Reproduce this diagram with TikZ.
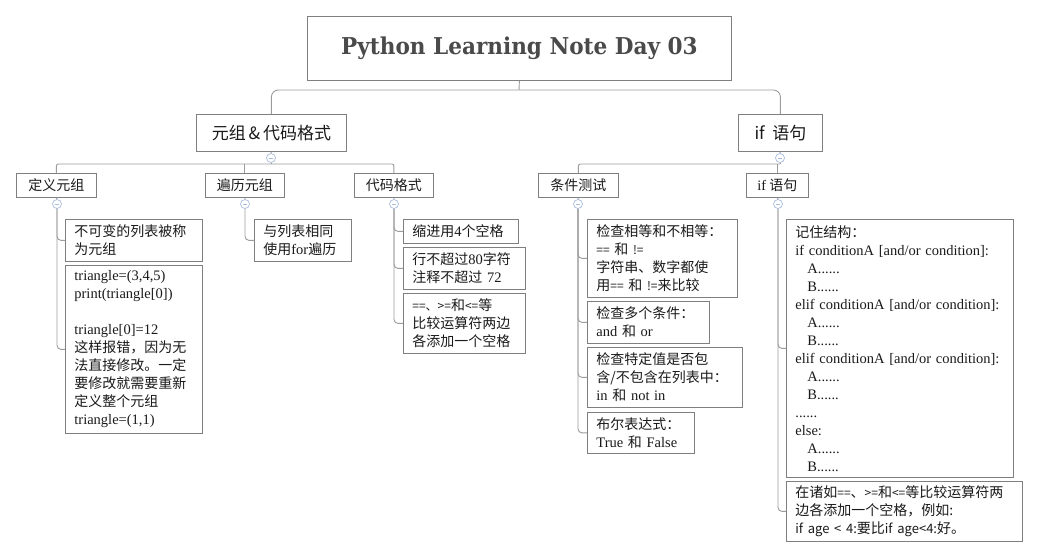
\documentclass[tikz,border=0pt]{standalone}
\usepackage{fontspec}
\setmainfont{Noto Sans CJK SC}
\newfontfamily\cdf{Liberation Serif}
\newfontfamily\titlef[FakeStretch=0.93]{DejaVu Serif}
\newcommand\cd[1]{{\cdf\fontsize{14.5}{18}\selectfont #1}}
\definecolor{boxc}{HTML}{7F7F7F}
\definecolor{connc}{HTML}{9C9C9C}
\definecolor{foldc}{HTML}{A9BCDD}
\definecolor{txt}{HTML}{1A1A1A}
\definecolor{titc}{HTML}{4A4A4A}
\tikzset{
  box/.style={draw=boxc, line width=0.8pt, fill=white, inner xsep=9pt, inner ysep=0pt,
    anchor=north west, align=left, text=txt, font=\fontsize{14}{18}\selectfont},
  cbox/.style={draw=boxc, line width=0.8pt, fill=white, inner xsep=0pt, inner ysep=0pt,
    anchor=north west, align=center, text=txt, font=\fontsize{14}{18}\selectfont},
  conn/.style={draw=connc, line width=0.9pt},
  fold/.style={circle, draw=foldc, fill=white, line width=0.7pt, minimum size=9pt, inner sep=0pt,
    path picture={\draw[foldc, line width=0.8pt] ([xshift=-2.3pt]path picture bounding box.center) -- ([xshift=2.3pt]path picture bounding box.center);}}
}
\newcommand\bx[6]{\node[box, text width=#4pt-18pt, minimum height=#5pt] (#1) at (#2,#3) {#6};}
\newcommand\bxc[6]{\node[cbox, minimum width=#4pt, minimum height=#5pt] (#1) at (#2,#3) {#6};}
\begin{document}
\begin{tikzpicture}[x=1pt,y=-1pt]
\useasboundingbox (0,0) rectangle (1038,558);
\fill[white] (0,0) rectangle (1038,558);

% root
\node[cbox, minimum width=424pt, minimum height=64pt, text=titc, font=\titlef\bfseries\fontsize{23.2}{26}\selectfont] (root) at (307,16) {Python Learning Note Day 03};

% level 1
\node[cbox, minimum width=150pt, minimum height=37pt, font=\fontsize{17}{20}\selectfont] (L1a) at (196,114) {元组\,\&\,代码格式};
\node[cbox, minimum width=84pt, minimum height=37pt, font=\fontsize{17}{20}\selectfont] (L1b) at (738,114) {if\ \ 语句};

% level 2
\bxc{L2a}{16}{173}{80}{24}{定义元组}
\bxc{L2b}{205}{173}{79}{24}{遍历元组}
\bxc{L2c}{354}{173}{79}{24}{代码格式}
\bxc{L2d}{538}{173}{80}{24}{条件测试}
\bxc{L2e}{746}{173}{62}{24}{\cd{if} 语句}

% level 3
\bx{A1}{65}{219}{137}{42}{不可变的列表被称\\为元组}
\bx{A2}{65}{265}{137}{168}{\cd{triangle=(3,4,5)}\\\cd{print(triangle[0])}\\[18pt]\cd{triangle[0]=12}\\这样报错，因为无\\法直接修改。一定\\要修改就需要重新\\定义整个元组\\\cd{triangle=(1,1)}}
\bx{B1}{254}{219}{97}{42}{与列表相同\\使用\cd{for}遍历}
\bx{C1}{403}{219}{115}{24}{缩进用\cd{4}个空格}
\bx{C2}{403}{247}{122}{42}{行不超过\cd{80}字符\\注释不超过 \cd{72}}
\bx{C3}{403}{293}{122}{60}{{\fontsize{12}{18}\selectfont ==、>=}和{\fontsize{12}{18}\selectfont <=}等\\比较运算符两边\\各添加一个空格}
\bx{D1}{587}{219}{150}{78}{检查相等和不相等：\\{\fontsize{12}{18}\selectfont ==} 和 {\fontsize{12}{18}\selectfont !=}\\字符串、数字都使\\用{\fontsize{12}{18}\selectfont ==} 和 {\fontsize{12}{18}\selectfont !=}来比较}
\bx{D2}{587}{301}{122}{42}{检查多个条件：\\\cd{and} 和 \cd{or}}
\bx{D3}{587}{347}{155}{60}{检查特定值是否包\\含/不包含在列表中：\\\cd{in} 和 \cd{not in}}
\bx{D4}{587}{412}{107}{41}{布尔表达式：\\\cd{True} 和 \cd{False}}
\bx{E1}{786}{219}{227}{258}{记住结构：\\\cd{if conditionA [and/or condition]:}\\\cd{\hspace*{12pt}A......}\\\cd{\hspace*{12pt}B......}\\\cd{elif conditionA [and/or condition]:}\\\cd{\hspace*{12pt}A......}\\\cd{\hspace*{12pt}B......}\\\cd{elif conditionA [and/or condition]:}\\\cd{\hspace*{12pt}A......}\\\cd{\hspace*{12pt}B......}\\\cd{......}\\\cd{else:}\\\cd{\hspace*{12pt}A......}\\\cd{\hspace*{12pt}B......}}
\bx{E2}{786}{481}{236}{60}{在诸如{\fontsize{12}{18}\selectfont ==}、{\fontsize{12}{18}\selectfont >=}和{\fontsize{12}{18}\selectfont <=}等比较运算符两\\边各添加一个空格，例如:\\{\fontsize{13}{18}\selectfont if age < 4:}要比{\fontsize{13}{18}\selectfont if age<4:}好。}

% folds
\node[fold] (f1) at (271,158) {};
\node[fold] (f2) at (780,158) {};
\node[fold] (g1) at (57,204) {};
\node[fold] (g2) at (245,204) {};
\node[fold] (g3) at (394,204) {};
\node[fold] (g4) at (578,204) {};
\node[fold] (g5) at (778,204) {};

\coordinate (j0) at (519,90);
\coordinate (j1) at (271,164);
\coordinate (j2) at (780,164);

% root to level 1
\draw[conn] (root.south) -- (j0);
\draw[conn, rounded corners=7pt] (L1a.north) |- (j0) -| (L1b.north);
\draw[conn] (L1a.south) -- (f1.north);
\draw[conn] (L1b.south) -- (f2.north);
% level 1 to level 2
\draw[conn] (f1.south) -- (j1);
\draw[conn, rounded corners=2pt] (L2a.north) |- (j1) -| (L2c.north);
\draw[conn] (L2b.north) -- (L2b.north |- j1);
\draw[conn] (f2.south) -- (j2);
\draw[conn, rounded corners=2pt] (L2d.north) |- (j2);
\draw[conn] (L2e.north) -- (L2e.north |- j2);
% level 2 to folds
\draw[conn] (L2a.south) -- (g1.north);
\draw[conn] (L2b.south) -- (g2.north);
\draw[conn] (L2c.south) -- (g3.north);
\draw[conn] (L2d.south) -- (g4.north);
\draw[conn] (L2e.south) -- (g5.north);
% level 3 branches
\draw[conn, rounded corners=4pt] (g1.south) |- (A1.west);
\draw[conn, rounded corners=4pt] (g1.south) |- (A2.west);
\draw[conn, rounded corners=4pt] (g2.south) |- (B1.west);
\draw[conn, rounded corners=4pt] (g3.south) |- (C1.west);
\draw[conn, rounded corners=4pt] (g3.south) |- (C2.west);
\draw[conn, rounded corners=4pt] (g3.south) |- (C3.west);
\draw[conn, rounded corners=4pt] (g4.south) |- (D1.west);
\draw[conn, rounded corners=4pt] (g4.south) |- (D2.west);
\draw[conn, rounded corners=4pt] (g4.south) |- (D3.west);
\draw[conn, rounded corners=4pt] (g4.south) |- (D4.west);
\draw[conn, rounded corners=4pt] (g5.south) |- (E1.west);
\draw[conn, rounded corners=4pt] (g5.south) |- (E2.west);
\end{tikzpicture}
\end{document}
